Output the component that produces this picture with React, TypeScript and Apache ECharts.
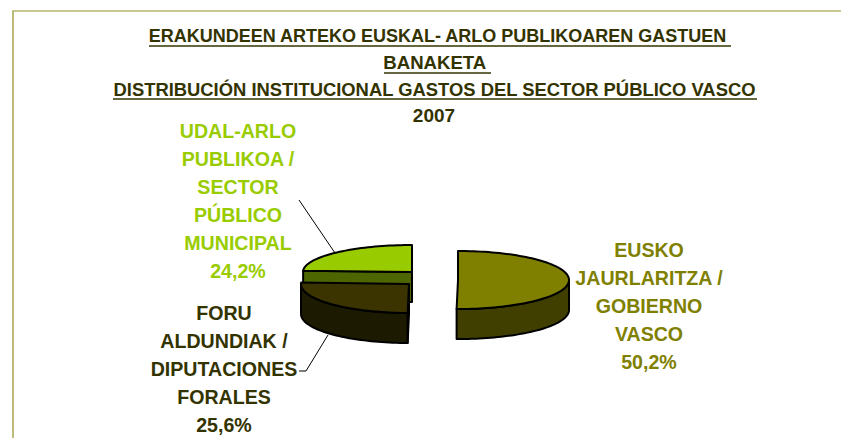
import React, { useEffect, useRef } from "react";
import * as echarts from "echarts";

const sliceNames = ["EUSKO\nJAURLARITZA /\nGOBIERNO\nVASCO", "FORU\nALDUNDIAK /\nDIPUTACIONES\nFORALES", "UDAL-ARLO\nPUBLIKOA /\nSECTOR\nPÚBLICO\nMUNICIPAL"];
const sliceValues = [50.2, 25.6, 24.2];
const titleLines = ["ERAKUNDEEN ARTEKO EUSKAL- ARLO PUBLIKOAREN GASTUEN ", "BANAKETA ", "DISTRIBUCIÓN INSTITUCIONAL GASTOS DEL SECTOR PÚBLICO VASCO", "2007"];

const topColors = ["#808000", "#3b3400", "#99cc00"];
const sideColors = ["#403f00", "#1c1a00", "#4d6600"];
const labelColors = ["#808000", "#333300", "#99cc00"];
const centers = [[458, 280, 111, 29], [409, 284, 108, 29], [412, 272, 109, 27]];
const labelPos = [[649, 236], [224, 299], [238, 117]];
const drawZ = [10, 30, 20];
const leaders = [null, [[299, 371], [306, 371], [328, 335]], [[299, 200], [335, 253]]];
const DEPTH = 30;
const FONT = "Liberation Sans, Arial, sans-serif";

function arcPoints(c: number[], a: number, b: number, dy = 0) {
  const pts: number[][] = [];
  const n = Math.max(2, Math.ceil(Math.abs(b - a) / 2));
  for (let i = 0; i <= n; i++) {
    const t = ((a + ((b - a) * i) / n) * Math.PI) / 180;
    pts.push([c[0] + c[2] * Math.sin(t), c[1] - c[3] * Math.cos(t) + dy]);
  }
  return pts;
}

const total = sliceValues.reduce((s, v) => s + v, 0);

function renderSlice(params: any, api: any) {
  const i = params.dataIndex;
  const value = api.value(0);
  const before = sliceValues.slice(0, i).reduce((s, v) => s + v, 0);
  const start = (before / total) * 360;
  const end = start + (value / total) * 360;
  const c = centers[i];
  const z = drawZ[i];
  const lineStyle = { stroke: "#000", lineWidth: 2, lineJoin: "round" };
  const children: any[] = [];
  const poly = (points: number[][], fill: string, z2: number) =>
    children.push({ type: "polygon", z2, shape: { points }, style: { fill, ...lineStyle } });

  if (start > 180 && start < 360) {
    const o = arcPoints(c, start, start)[0];
    poly([[c[0], c[1]], o, [o[0], o[1] + DEPTH], [c[0], c[1] + DEPTH]], sideColors[i], z);
  }
  const a = Math.max(start, 90);
  const b = Math.min(end, 270);
  if (b > a) {
    poly([...arcPoints(c, a, b), ...arcPoints(c, b, a, DEPTH)], sideColors[i], z + 1);
  }
  poly([[c[0], c[1]], ...arcPoints(c, start, end)], topColors[i], z + 2);

  const lead = leaders[i];
  if (lead) {
    children.push({ type: "polyline", z2: 40, shape: { points: lead }, style: { fill: "none", stroke: "#000", lineWidth: 1 } });
  }
  children.push({
    type: "text",
    z2: 50,
    style: {
      x: labelPos[i][0],
      y: labelPos[i][1],
      text: sliceNames[i] + "\n" + String(value).replace(".", ",") + "%",
      fill: labelColors[i],
      font: "bold 19.6px " + FONT,
      lineHeight: 28,
      align: "center",
      verticalAlign: "top",
    },
  });
  return { type: "group", children };
}

const titleY = [36, 62, 89, 115];
const titleX = [440, 437, 434.5, 434];
const titleSize = [18, 18.6, 18.4, 19];
const underlines = [[149, 731, 46], [384, 491, 73], [113, 757, 99]];

export default function App() {
  const ref = useRef<HTMLDivElement>(null);
  useEffect(() => {
    const chart = echarts.init(ref.current!, null, { renderer: "svg" });
    chart.setOption({
      animation: false,
      backgroundColor: "#fff",
      graphic: [
        { type: "polyline", shape: { points: [[13, 438], [13, 11], [841, 11]] }, style: { fill: "none", stroke: "#8f8f1f", lineWidth: 1.2 } },
        ...titleLines.map((t, i) => ({
          type: "text",
          x: titleX[i],
          y: titleY[i],
          style: { text: t, fill: "#333300", font: "bold " + titleSize[i] + "px " + FONT, align: "center", verticalAlign: "middle" },
        })),
        ...underlines.map((u) => ({
          type: "line",
          shape: { x1: u[0], x2: u[1], y1: u[2], y2: u[2] },
          style: { stroke: "#333300", lineWidth: 1.6 },
        })),
      ],
      series: [
        {
          type: "custom",
          coordinateSystem: "none",
          renderItem: renderSlice,
          silent: true,
          data: sliceValues.map((v, i) => ({ name: sliceNames[i], value: [v] })),
        },
      ],
    });
    return () => chart.dispose();
  }, []);
  return <div ref={ref} style={{ position: "fixed", left: 0, top: 0, width: 841, height: 438 }} />;
}
